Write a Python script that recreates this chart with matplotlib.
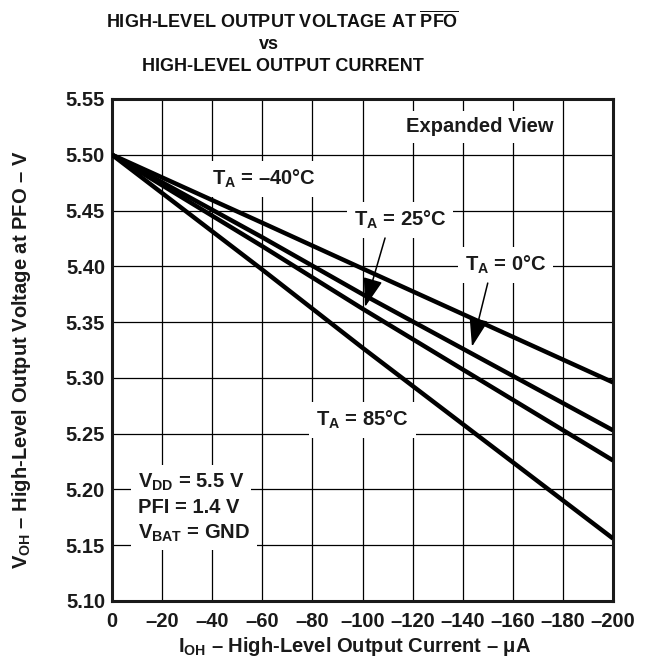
import numpy as np
import matplotlib
matplotlib.use("Agg")
from matplotlib import pyplot as plt

plt.rcParams['font.family'] = ['Liberation Sans', 'DejaVu Sans']
plt.rcParams['font.weight'] = 'bold'
plt.rcParams['axes.labelweight'] = 'bold'
plt.rcParams['mathtext.fontset'] = 'custom'
plt.rcParams['mathtext.rm'] = 'Liberation Sans:bold'
plt.rcParams['mathtext.it'] = 'Liberation Sans:bold'
plt.rcParams['mathtext.bf'] = 'Liberation Sans:bold'

# values
currentUA = [0, -60, -100, -200]
vohMinus40 = [5.500, 5.439, 5.398, 5.296]
voh0 = [5.500, 5.426, 5.375, 5.253]
voh25 = [5.500, 5.418, 5.362, 5.226]
voh85 = [5.500, 5.397, 5.327, 5.156]

xTicks = [0, -20, -40, -60, -80, -100, -120, -140, -160, -180, -200]
yTicks = [5.10, 5.15, 5.20, 5.25, 5.30, 5.35, 5.40, 5.45, 5.50, 5.55]

fig = plt.figure(figsize=(6.55, 6.63), dpi=100)
ax = fig.add_axes([112/655, 1 - 601/663, 501/655, 502/663])

for series in [vohMinus40, voh0, voh25, voh85]:
    ax.plot(currentUA, series, color='black', lw=3.2, solid_capstyle='butt', zorder=5)

ax.set_xlim(0, -200)
ax.set_ylim(5.10, 5.55)
ax.set_xticks(xTicks)
ax.set_xticklabels(["0" if t == 0 else "\u2013" + str(abs(t)) for t in xTicks])
ax.set_yticks(yTicks)
ax.set_yticklabels(["%.2f" % t for t in yTicks])
ax.tick_params(length=0, labelsize=14.5, colors='#1a1a1a')
ax.tick_params(axis='x', pad=8)
ax.tick_params(axis='y', pad=5)
ax.grid(True, color='black', lw=0.9, zorder=1)
ax.set_axisbelow(True)
for s in ax.spines.values():
    s.set_linewidth(2.2)
    s.set_color('#1a1a1a')

ax.set_xlabel("I$_\\mathrm{OH}$ \u2013 High-Level Output Current \u2013 \u03bcA", fontsize=14.5,
              color='#1a1a1a')
ax.xaxis.set_label_coords(0.485, -0.068)
ax.set_ylabel("V$_\\mathrm{OH}$ \u2013 High-Level Output Voltage at PFO \u2013 V", fontsize=14.5,
              color='#1a1a1a')
ax.yaxis.set_label_coords(-0.158, 0.48)

box = dict(facecolor='white', edgecolor='none', pad=5)
txt = dict(fontsize=14.5, ha='center', va='center', bbox=box, zorder=3, color='#1a1a1a')
ax.text(-147, 5.525, "Expanded View", **txt)
ax.text(-60.5, 5.478, "T$_\\mathrm{A}$ = \u201340\u00b0C", **txt)
ax.text(-115, 5.4415, "T$_\\mathrm{A}$ = 25\u00b0C", **txt)
ax.text(-157, 5.401, "T$_\\mathrm{A}$ = 0\u00b0C", **txt)
ax.text(-100, 5.262, "T$_\\mathrm{A}$ = 85\u00b0C", **txt)

cond = dict(fontsize=14.5, ha='left', va='center', bbox=box, zorder=3, color='#1a1a1a')
ax.text(-10.4, 5.206, "V$_\\mathrm{DD}$ = 5.5 V", **cond)
ax.text(-10.4, 5.184, "PFI = 1.4 V", **cond)
ax.text(-10.4, 5.161, "V$_\\mathrm{BAT}$ = GND", **cond)

arrow = dict(arrowstyle='-|>,head_length=0.9,head_width=0.3', color='black', lw=1.1,
             mutation_scale=20, shrinkA=0, shrinkB=0)
ax.annotate("", xy=(-101, 5.3636), xytext=(-109, 5.4254), arrowprops=arrow, zorder=6)
ax.annotate("", xy=(-143.7, 5.328), xytext=(-150, 5.385), arrowprops=arrow, zorder=6)

fig.text(0.432, 1 - 28/663, "HIGH-LEVEL OUTPUT VOLTAGE AT $\\overline{\\mathrm{PFO}}$",
         ha='center', va='baseline', fontsize=13, color='#111111')
fig.text(0.41, 1 - 49/663, "vs", ha='center', va='baseline', fontsize=13, color='#111111')
fig.text(0.432, 1 - 71/663, "HIGH-LEVEL OUTPUT CURRENT", ha='center', va='baseline',
         fontsize=13, color='#111111')

fig.savefig("out.png", dpi=100)
